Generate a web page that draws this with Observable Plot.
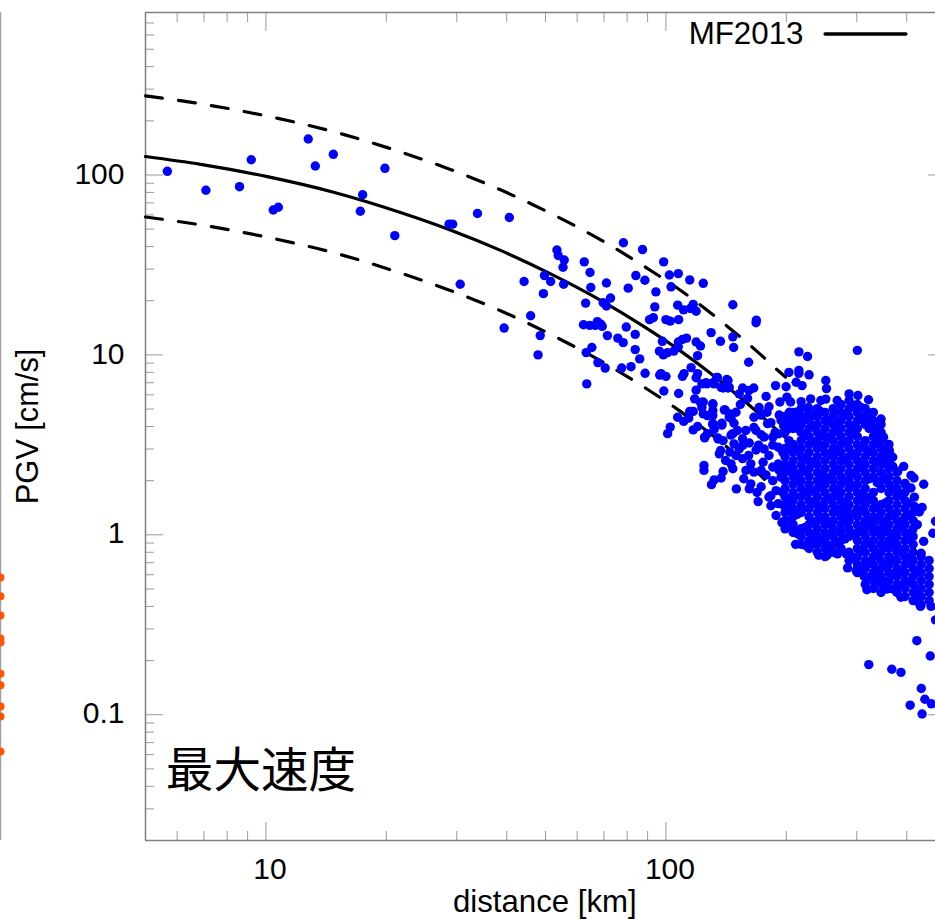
<!DOCTYPE html>
<html>
<head>
<meta charset="utf-8">
<style>html,body{margin:0;padding:0;background:#fff;overflow:hidden}svg{display:block}</style>
<script src="https://cdn.jsdelivr.net/npm/d3@7"></script>
<script src="https://cdn.jsdelivr.net/npm/@observablehq/plot@0.6"></script>
</head>
<body>
<script>
// MF2013 curve: distance [km], median, +/- one sigma PGV [cm/s]
const curveKm = [5,6.87,10.08,14.76,21.7,28.9,38.6,51.5,68.7,88,108.9,131.6,147.6,169.5,191,199];
const curveMid = [126.7,114.6,97.9,80.2,61.9,49.5,38.1,28.2,20.1,14.4,10.5,7.66,6.22,4.79,3.76,3.47];
const curveUp = [275,248.7,212.4,174,134.3,107.4,82.7,61.2,43.6,31.2,22.8,16.6,13.5,10.4,8.16,7.53];
const curveLow = [58.4,52.8,45.1,37,28.5,22.8,17.6,13,9.26,6.64,4.84,3.53,2.87,2.21,1.73,1.6];

// observations [distance km, PGV cm/s]
const nearObs = [[5.67,104.8],[7.08,82.2],[8.59,86.1],[9.19,121.6],[10.43,63.9],[10.74,66.2],[12.76,158.5],[13.29,112.2],[14.74,130.3],[19.84,108.9],[17.45,77.7],[17.22,62.9],[21,46],[28.7,53.3],[29.3,53.3],[33.8,61.1],[40.6,58],[30.6,24.7],[39.4,14.1]];
const midObs = [[53.4,38.3],[53.8,35.7],[55.7,33.7],[55.3,30.7],[62.5,32.9],[64.6,28.7],[78.3,42],[87.4,38.5],[98.7,32.9],[49.7,27.6],[51.5,25.6],[55.5,24.7],[44.2,25.6],[49.4,21.9],[45.9,16.5],[48.5,12.8],[47.9,10],[71,25.1],[64.9,23.7],[80.5,23.5],[84.1,27.6],[88.6,26],[94.4,22.4],[102,27.8],[107.4,28.3],[114.7,26.1],[124,25],[103,23.9],[72.7,20.7],[69.7,19.5],[71,18.7],[63,19.4],[107,18.9],[93.8,18.5],[117,19.1],[110.7,17.8],[115,18.1],[119,17.5],[147,19],[93,16.1],[91,15.7],[100,15.7],[102.5,15.4],[107.6,15.7],[62.2,14.7],[64.5,14.6],[66.6,14.6],[67.4,15.3],[68.8,14.8],[69.3,14.4],[79.6,14.3],[83.8,13],[71.4,12.8],[75.8,12.4],[78.2,11.7],[129.7,13.3],[136.9,11.9],[147,12.6],[147.7,11],[98,11.9],[107.4,11.8],[112.6,12.4],[110,12.2],[119,11.8],[122,11.2],[83.8,10.7],[65.3,11],[63.2,10.3],[96.3,10.5],[98.5,10],[101,10.3],[104.7,10.5],[107.4,11.1],[120,9.9],[86,9.5],[67.6,9.06],[70.5,8.45],[77.5,8.45],[81.8,8.6],[88.7,7.9],[97.2,7.87],[96.5,7.72],[100,7.6],[111,7.87],[110,7.6],[115.6,8.5],[120,7.87],[119,7.46],[63.4,6.9],[98.8,6.3],[107.6,6.1],[119,6.37],[118,5.7],[107,4.5],[102.5,3.97],[101,3.65],[114.7,4.85],[117,4.85],[110.8,4.27],[114,4.45],[120,4],[117,3.83],[122,5.45],[123,5.1],[124,4.7],[131,5.3],[131,4.6],[131,4.1],[138,4.07],[127,3.65],[125,3.46],[135,3.41],[123,6.9],[126.5,6.9],[132,6.9],[134.5,7.5],[137.4,6.6],[143,7.2],[144,6.6],[140,4.95],[144,4.5],[147,3.65],[137,2.94],[161,9.1],[168.3,15.6],[168,15.1]];
const farEdgeObs = [[215,10.4],[226,9.8],[301,10.6],[203,8],[215,8.2],[215,7.9],[228,7.75],[211.6,7.05],[219,6.75],[188,6.75],[199.7,6.65],[251,7.21],[252,6.5],[165.8,6.55],[155.5,6.55],[142,7.3],[134,7.5],[126,7],[131,7],[139,6.55],[143,6.55],[152.5,6.07],[161.3,6.34],[160,5.73],[178,5.88],[200.7,5.82],[192.7,5.47],[205,5.47],[217.8,5.5],[230,5.7],[244,5.58],[251,5.68],[268,5.58],[287,6.07],[302,5.95],[321,5.63],[153.5,5.3],[149.7,4.8],[140.5,4.95],[144.5,4.7],[131,5.35],[124,5.47],[131,4.9],[127,4.6],[171,5.1],[181,5.15],[179,4.8],[166,4.5],[192,4.63],[203.5,4.8],[211.6,4.8],[227,5.1],[243,4.86],[264,4.86],[295,5.24],[307.6,5.1],[322,4.75],[345,4.4],[341,4],[131,4.15],[138,4.17],[145.5,4.45],[125,3.49],[134.8,3.46],[132,3.85],[148,4.17],[166,3.95],[168,3.8],[179.5,4.15],[194,4.32],[205.6,4.32],[176,3.49],[173,3.6],[185,3.49],[191,3.64],[145.5,3.58],[151,3.8],[155.5,3.42],[161.6,3.24],[148,3.2],[144.5,2.88],[136,2.82],[152.5,3],[168,2.96],[176,3],[191,3.07],[203.5,3],[175,2.53],[191,2.48],[155.5,2.65],[163,2.48],[124.5,2.43],[124.5,2.28],[145.5,2.48],[147,2.33],[139,2.25],[137.4,2.07],[132,2.02],[130,1.9],[150,1.8],[156.5,2.05],[166,2.23],[185,2.38],[194,2.09],[163,1.92],[161.6,1.8],[170,1.53],[169,1.72],[181,1.62],[196,1.72],[183,1.45],[188.5,1.28],[195,1.17],[191,1.49],[203.5,1.37],[207.7,1.1],[214,1.01],[211,0.885],[224,0.87],[241,0.77],[253,0.77],[268.5,0.784],[237,0.89],[282.5,0.784],[284.5,0.655],[299,0.633],[313,0.587],[332,0.55],[318,0.495],[357,0.5],[370,0.5],[387,0.45],[422,0.44],[430,0.415],[460,0.4],[433,0.4],[472,0.337],[350,3.49],[362,2.94],[369,2.7],[355,2.48],[393,2.4],[380,2.26],[410,2.14],[417,2.07],[441,1.91],[396,1.93],[410,1.82],[418,1.62],[437,1.42],[418,1.44],[430,1.34],[408,1.28],[425,1.14],[472,1.19],[465,1.02],[441,0.92],[410,1.03],[434.6,0.79]];
const lowObs = [[424,0.258],[458,0.212],[321.5,0.19],[367,0.179],[387,0.172],[435,0.14],[444,0.122],[461,0.115],[408,0.113],[437,0.101]];
const bandObs = [[185,3.15],[181,2.76],[196,2.88],[192,2.28],[185,2],[178,2.15],[173,1.85],[200,2.42],[188.5,1.76],[197,1.46],[183,1.65],[173,2.28],[161,2.76],[158.5,2.28],[149.7,2.76],[141,2.59],[170.5,3.15],[155.7,3.15],[197,4.03],[187.5,3.71],[183,4.2],[158.5,3.8],[139,3.34],[173,4.63]];
const coreObs = [[203,3.34],[213.5,3.9],[222.7,4.45],[233.5,4.03],[244,3.66],[255,4.32],[268,3.8],[281,4.63],[294,4.03],[307.6,4.45],[322,3.9],[338,3.34],[354,2.76],[205.6,2.43],[215,2],[225.5,2.28],[236,1.76],[247,1.45],[259,2.06],[271,1.65],[284,1.33],[297,1.88],[311,1.55],[326,1.13],[341,1.25],[357,1.05],[374,0.87],[392,1.2],[410,0.765],[274,1.05],[253,1],[233,1.17],[217.8,1.36],[208,1.63]];

const cloudKm = [198.5,208,217.8,228,239,250,262,274,287,301,315,330,345,361,378,396,415,434.6,455];
const cloudPgv = [
 [4.55,4.11,3.71,3.02,2.72,2.46,2.22,2,1.81,1.63,1.47,1.33,1.2,1.08],
 [4.79,4.32,3.9,3.18,2.87,2.59,2.34,2.11,1.91,1.72,1.55,1.4,1.26,1.14,1.03],
 [5.03,4.55,4.11,3.71,3.34,3.02,2.72,2.46,2.22,2,1.81,1.63,1.47,1.33,1.08,0.98,0.885],
 [4.79,4.32,3.9,3.52,3.18,2.87,2.59,2.34,2.11,1.91,1.72,1.55,1.4,1.26,1.14,1.03,0.93,0.84],
 [5.03,4.55,4.11,3.71,3.34,3.02,2.72,2.46,2.22,2,1.81,1.63,1.47,1.33,1.2,1.08,0.98,0.885,0.8],
 [4.79,4.32,3.9,3.52,3.18,2.87,2.59,2.34,2.11,1.91,1.72,1.55,1.4,1.26,1.14,1.03,0.93,0.84,0.757],
 [5.03,4.55,4.11,3.71,3.34,3.02,2.72,2.46,2.22,2,1.81,1.63,1.47,1.33,1.2,1.08,0.98,0.885,0.8],
 [5.3,4.79,4.32,3.9,3.52,3.18,2.87,2.59,2.34,2.11,1.91,1.72,1.55,1.4,1.26,1.14,1.03,0.93,0.84],
 [5.58,5.03,4.55,4.11,3.71,3.34,3.02,2.72,2.46,2.22,2,1.81,1.63,1.47,1.33,1.2,1.08,0.98,0.8,0.72],
 [5.3,4.79,4.32,3.9,3.52,3.18,2.87,2.59,2.34,2.11,1.91,1.72,1.55,1.4,1.26,1.14,1.03,0.93,0.84,0.757,0.684,0.617],
 [5.03,4.55,4.11,3.34,3.02,2.72,2.46,2.22,2,1.81,1.63,1.47,1.33,1.2,1.08,0.98,0.885,0.8,0.72,0.65,0.587,0.53],
 [4.79,4.32,3.9,3.52,3.18,2.87,2.59,2.34,2.11,1.72,1.55,1.4,1.26,1.14,1.03,0.93,0.84,0.757,0.684,0.617,0.557,0.503],
 [4.11,3.71,3.34,3.02,2.72,2.46,2.22,2,1.81,1.47,1.33,1.2,1.08,0.98,0.885,0.8,0.72,0.65,0.587,0.53,0.478],
 [3.18,2.87,2.59,2.34,2.11,1.91,1.72,1.55,1.4,1.26,1.14,1.03,0.93,0.84,0.757,0.684,0.617,0.557,0.503],
 [2.22,2,1.81,1.63,1.47,1.33,1.2,1.08,0.98,0.885,0.8,0.72,0.65,0.587,0.53,0.478],
 [1.91,1.72,1.55,1.4,1.26,1.14,1.03,0.93,0.84,0.757,0.684,0.617,0.557,0.503,0.454],
 [1.33,1.2,1.08,0.98,0.885,0.8,0.72,0.65,0.587,0.53,0.478,0.431],
 [0.757,0.684,0.617,0.557,0.503,0.454,0.41],
 [0.72,0.65,0.587,0.53,0.478,0.431]
];
const cloud2Km = [203,212.8,222.9,233.5,244.5,256,268,280.5,294,308,322.5,337.5,353,369,387,405,425];
const cloud2Pgv = [
 [3.9,2.3,1.55,1.2],
 [4.4,3,2.15,1.3],
 [3.6,2.7,1.72,1.1],
 [4.6,3.3,2.5,1.5,1],
 [3.1,2.2,1.9,1.25,0.93],
 [3.5,2.8,1.6,1.15,0.85],
 [4.3,3,2.3,1.75,1.35,0.9],
 [3.3,2.6,2,1.5,1.18,0.95],
 [3.65,2.75,2.2,1.3,1,0.75],
 [3.1,2.45,1.7,1.38,1.1,0.82,0.65],
 [4.2,2.9,2.05,1.6,1.25,0.9,0.7,0.58],
 [3.6,2.55,1.95,1.42,1.05,0.78,0.62],
 [3,2.1,1.5,1.18,0.88,0.68,0.55],
 [2.4,1.8,1.3,0.98,0.72,0.6],
 [1.65,1.1,0.8,0.62,0.52],
 [1.5,0.95,0.7,0.55],
 [0.62,0.5,0.46]
];
const cloudObs = cloudKm.flatMap((km, i) => cloudPgv[i].map(v => [km, v]));
const cloud2Obs = cloud2Km.flatMap((km, i) => cloud2Pgv[i].map(v => [km, v]));

// edge of the neighbouring panel, only its last sliver shows
const panelEdgeKm = 2.17;
const neighbourPgv = [0.58,0.456,0.356,0.265,0.252,0.169,0.146,0.111,0.0977,0.0625];

const majorX = [10,100];
const minorX = [6,7,8,9,20,30,40,50,60,70,80,90,200,300,400];
const majorY = [0.1,1,10,100];
const minorY = [0.02,0.03,0.04,0.05,0.06,0.07,0.08,0.09,0.2,0.3,0.4,0.5,0.6,0.7,0.8,0.9,2,3,4,5,6,7,8,9,20,30,40,50,60,70,80,90,200,300,400,500,600,700];

const frameColor = "#808080", tickColor = "#9a9a9a";
const sans = "'Liberation Sans', Helvetica, Arial, sans-serif";
const tickOpts = {stroke: tickColor, strokeWidth: 1, fill: "none", label: null};
const curve = (ys) => curveKm.map((x, i) => [x, ys[i]]);
const lab = {x: d => d[0], y: d => d[1]};

const all = [...nearObs, ...midObs, ...farEdgeObs, ...lowObs, ...bandObs, ...coreObs, ...cloudObs, ...cloud2Obs];

const chart = Plot.plot({
  width: 935, height: 921,
  marginLeft: 145, marginRight: -10, marginTop: 12, marginBottom: 81,
  x: {type: "log", domain: [5, 500], axis: null},
  y: {type: "log", domain: [0.02, 800], axis: null},
  style: {background: "#fff", fontFamily: sans, color: "#000"},
  marks: [
    Plot.axisX({anchor: "bottom", ticks: majorX, tickSize: -18, ...tickOpts}),
    Plot.axisX({anchor: "top", ticks: majorX, tickSize: -18, ...tickOpts}),
    Plot.axisX({anchor: "bottom", ticks: minorX, tickSize: -9, ...tickOpts}),
    Plot.axisX({anchor: "top", ticks: minorX, tickSize: -9, ...tickOpts}),
    Plot.axisY({anchor: "left", ticks: majorY, tickSize: -18, ...tickOpts}),
    Plot.axisY({anchor: "right", ticks: majorY, tickSize: -18, ...tickOpts}),
    Plot.axisY({anchor: "left", ticks: minorY, tickSize: -9, ...tickOpts}),
    Plot.axisY({anchor: "right", ticks: minorY, tickSize: -9, ...tickOpts}),
    Plot.axisX({anchor: "bottom", ticks: majorX, tickSize: 0, tickPadding: 17, fontSize: 30, label: null, tickFormat: d => String(d), dx: 4}),
    Plot.axisY({anchor: "left", ticks: majorY, tickSize: 0, tickPadding: 21, fontSize: 30, label: null, tickFormat: d => String(d), dy: -1}),
    Plot.ruleX([panelEdgeKm], {y1: 0.02, y2: 800, stroke: "#a0a0a0", strokeWidth: 1.5}),
    Plot.dot(neighbourPgv, {x: panelEdgeKm, y: d => d, r: 4, fill: "#ff5500"}),
    Plot.ruleX([5], {y1: 0.02, y2: 800, stroke: frameColor, strokeWidth: 1.5}),
    Plot.ruleY([0.02, 800], {x1: 5, x2: 500, stroke: frameColor, strokeWidth: 1.5}),
    Plot.line(curve(curveUp), {...lab, stroke: "#000", strokeWidth: 3.2, strokeDasharray: "17,16.3", curve: "monotone-x"}),
    Plot.line(curve(curveLow), {...lab, stroke: "#000", strokeWidth: 3.2, strokeDasharray: "17,16.3", curve: "monotone-x"}),
    Plot.line(curve(curveMid), {...lab, stroke: "#000", strokeWidth: 3.2, curve: "monotone-x"}),
    Plot.dot(all, {...lab, r: 4.7, fill: "#0000ff"}),
    Plot.line([[250, 608], [398, 608]], {...lab, stroke: "#000", strokeWidth: 3.4}),
    Plot.text(["MF2013"], {x: 114, y: 608, text: d => d, textAnchor: "start", fontSize: 31.3, fill: "#000"}),
    Plot.text(["最大速度"], {x: 5.62, y: 0.0483, text: d => d, textAnchor: "start", fontSize: 47.6, fill: "#000", fontFamily: "'Noto Sans CJK JP'"}),
    Plot.text(["distance [km]"], {x: 49.8, y: 0.00915, text: d => d, fontSize: 31.2, fill: "#000"}),
    Plot.text(["PGV [cm/s]"], {x: 2.54, y: 4, text: d => d, rotate: -90, fontSize: 30.8, fill: "#000"})
  ]
});
document.body.appendChild(chart);
</script>
</body>
</html>
